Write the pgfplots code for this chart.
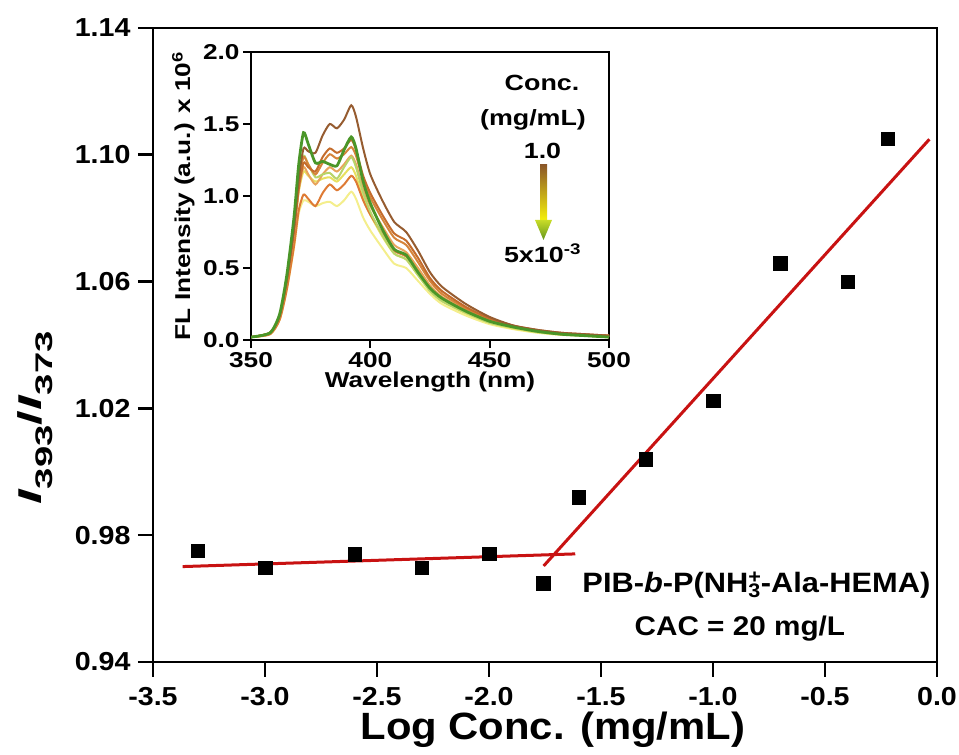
\documentclass[border=0pt]{standalone}
\usepackage{pgfplots}
\pgfplotsset{compat=1.18}
\usepackage{pgfplotstable}
\usepackage{fontspec}
\setmainfont{Liberation Sans}[FakeStretch=1.1]
\newfontfamily\insetfont{Liberation Sans}[FakeStretch=1.22]

\definecolor{fitred}{RGB}{200,18,18}
\definecolor{cBrown}{RGB}{150,92,48}
\definecolor{cOrA}{RGB}{196,108,44}
\definecolor{cOrB}{RGB}{214,132,58}
\definecolor{cOrC}{RGB}{232,164,92}
\definecolor{cOrD}{RGB}{222,122,52}
\definecolor{cYelA}{RGB}{244,238,140}
\definecolor{cYelB}{RGB}{232,224,96}
\definecolor{cLGreen}{RGB}{184,212,106}
\definecolor{cGreen}{RGB}{74,150,40}
\definecolor{barBrown}{RGB}{140,88,40}
\definecolor{barOrange}{RGB}{220,150,20}
\definecolor{barYellow}{RGB}{245,240,10}
\definecolor{headTop}{RGB}{200,220,40}
\definecolor{headBot}{RGB}{100,150,30}

% I393/I373 ratio versus log concentration
\pgfplotstableread{
x      y
-3.30  0.9751
-3.00  0.9697
-2.60  0.9740
-2.30  0.9697
-2.00  0.9741
-1.60  0.9920
-1.30  1.0040
-1.00  1.0224
-0.70  1.0658
-0.40  1.0600
-0.22  1.1050
}\ratiodata

% fluorescence spectra, one column per concentration (1.0 ... 5e-3 mg/mL)
\pgfplotstableread{
wl   B     O1    O2    O3    O4    Y1    Y2    LG    G
350  0.02  0.02  0.02  0.02  0.02  0.02  0.02  0.02  0.02
358  0.05  0.05  0.05  0.05  0.04  0.04  0.05  0.05  0.05
362  0.17  0.16  0.17  0.16  0.14  0.14  0.16  0.17  0.18
365  0.42  0.40  0.42  0.40  0.35  0.35  0.40  0.42  0.45
368  0.78  0.75  0.78  0.74  0.65  0.64  0.74  0.78  0.85
370  1.12  1.05  1.10  1.04  0.90  0.88  1.03  1.10  1.22
372  1.33  1.23  1.27  1.20  1.01  0.97  1.17  1.28  1.44
374  1.31  1.20  1.22  1.15  0.98  0.96  1.14  1.22  1.36
377  1.30  1.17  1.15  1.08  0.93  0.93  1.10  1.13  1.23
380  1.42  1.27  1.23  1.15  1.02  0.95  1.12  1.15  1.24
383  1.50  1.33  1.29  1.20  1.08  0.96  1.13  1.16  1.22
386  1.47  1.30  1.26  1.17  1.04  0.93  1.10  1.12  1.21
389  1.53  1.33  1.29  1.22  1.08  0.97  1.15  1.20  1.32
392  1.63  1.39  1.34  1.28  1.14  1.03  1.20  1.27  1.41
394  1.55  1.32  1.28  1.22  1.10  0.98  1.14  1.20  1.33
397  1.33  1.14  1.11  1.05  0.97  0.85  0.98  1.02  1.10
400  1.15  1.02  0.99  0.93  0.87  0.76  0.87  0.89  0.95
405  0.97  0.87  0.84  0.79  0.74  0.64  0.72  0.73  0.77
410  0.82  0.74  0.71  0.66  0.62  0.53  0.60  0.60  0.63
415  0.75  0.69  0.66  0.61  0.58  0.50  0.56  0.56  0.59
420  0.62  0.57  0.54  0.50  0.48  0.41  0.45  0.45  0.47
425  0.47  0.43  0.41  0.38  0.37  0.32  0.35  0.34  0.36
430  0.37  0.34  0.32  0.30  0.29  0.25  0.27  0.27  0.29
440  0.25  0.23  0.22  0.21  0.20  0.17  0.185 0.19  0.20
450  0.16  0.15  0.14  0.135 0.13  0.11  0.12  0.12  0.13
460  0.10  0.10  0.095 0.09  0.09  0.075 0.08  0.085 0.09
470  0.07  0.07  0.065 0.06  0.06  0.05  0.055 0.055 0.06
480  0.05  0.05  0.045 0.045 0.04  0.035 0.04  0.04  0.04
490  0.04  0.04  0.035 0.035 0.035 0.03  0.03  0.03  0.03
500  0.03  0.03  0.03  0.03  0.03  0.02  0.02  0.02  0.02
}\spectra

\newcommand{\sub}[1]{\raisebox{-0.32em}{\fontsize{24bp}{24bp}\selectfont #1}}

\begin{document}
\begin{tikzpicture}
\useasboundingbox (0bp,0bp) rectangle (959bp,755bp);

% ---------------- main plot ----------------
\begin{axis}[
  at={(153bp,93bp)}, anchor=south west,
  scale only axis, width=784bp, height=634bp,
  xmin=-3.5, xmax=0, ymin=0.94, ymax=1.14,
  xtick={-3.5,-3.0,-2.5,-2.0,-1.5,-1.0,-0.5,0.0},
  ytick={0.94,0.98,1.02,1.06,1.10,1.14},
  xtick pos=bottom, ytick pos=left,
  tick align=outside, major tick length=15bp,
  axis line style={line width=2.6bp},
  tick style={line width=2.6bp, black},
  /pgf/number format/assume math mode=true,
  ticklabel style={font=\fontsize{26bp}{30bp}\selectfont\bfseries},
  xticklabel style={yshift=-7bp, /pgf/number format/fixed, /pgf/number format/fixed zerofill, /pgf/number format/precision=1},
  yticklabel style={xshift=-4bp, /pgf/number format/fixed, /pgf/number format/fixed zerofill, /pgf/number format/precision=2},
  xlabel={Log Conc. (mg/mL)},
  xlabel style={font=\fontsize{38bp}{44bp}\selectfont\bfseries, at={(axis description cs:0.510,-0.123)}, anchor=base},
  ylabel={\scalebox{1.45}[1]{\textit{I}\sub{393}/\textit{I}\sub{373}}},
  ylabel style={font=\fontsize{33bp}{40bp}\selectfont\bfseries, at={(axis description cs:-0.142,0.385)}, anchor=base},
  legend style={at={(axis cs:-1.789,0.9649)}, anchor=west, draw=none, fill=none,
    font=\fontsize{28bp}{32bp}\selectfont\bfseries, inner sep=0pt},
  legend image code/.code={\path[draw=none, fill=none] (0bp,-7bp) rectangle (44bp,7bp);
    \draw[#1] plot coordinates {(6.7bp,0bp)};},
]
\addplot[only marks, mark=square*, mark size=6.7bp, black] table[x=x, y=y] {\ratiodata};
\addlegendentry{PIB-\textit{b}-P(NH\rlap{\textsuperscript{+}}\textsubscript{3}-Ala-HEMA)}
\addplot[fitred, line width=3bp, forget plot] coordinates {(-3.368,0.9701) (-1.615,0.9741)};
\addplot[fitred, line width=3bp, forget plot] coordinates {(-1.756,0.9703) (-0.034,1.1049)};
\node[anchor=base, font=\fontsize{27bp}{30bp}\selectfont\bfseries] at (axis cs:-0.880,0.9485) {CAC = 20 mg/L};
\end{axis}

% ---------------- inset: emission spectra ----------------
\begin{axis}[
  at={(251bp,415bp)}, anchor=south west,
  scale only axis, width=358bp, height=288bp,
  xmin=350, xmax=500, ymin=0, ymax=2,
  xtick={350,400,450,500}, ytick={0,0.5,1,1.5,2},
  xtick pos=bottom, ytick pos=left,
  tick align=outside, major tick length=8bp,
  axis line style={line width=1.8bp},
  tick style={line width=1.8bp, black},
  /pgf/number format/assume math mode=true,
  ticklabel style={font=\insetfont\fontsize{21.5bp}{25bp}\selectfont\bfseries},
  xticklabel style={yshift=-1bp},
  yticklabel style={/pgf/number format/fixed, /pgf/number format/fixed zerofill, /pgf/number format/precision=1},
  xlabel={Wavelength (nm)},
  xlabel style={font=\insetfont\fontsize{21.5bp}{25bp}\selectfont\bfseries, at={(axis description cs:0.5,-0.166)}, anchor=base},
  ylabel={FL Intensity (a.u.) x 10\textsuperscript{6}},
  ylabel style={font=\insetfont\fontsize{21.5bp}{25bp}\selectfont\bfseries, at={(axis description cs:-0.170,0.5)}, anchor=base},
  every axis plot/.append style={smooth, tension=0.4, line width=2bp},
]
\addplot[cYelA] table[x=wl, y=Y1] {\spectra};
\addplot[cYelB] table[x=wl, y=Y2] {\spectra};
\addplot[cOrD] table[x=wl, y=O4] {\spectra};
\addplot[cOrC] table[x=wl, y=O3] {\spectra};
\addplot[cLGreen] table[x=wl, y=LG] {\spectra};
\addplot[cOrB] table[x=wl, y=O2] {\spectra};
\addplot[cOrA] table[x=wl, y=O1] {\spectra};
\addplot[cBrown] table[x=wl, y=B] {\spectra};
\addplot[cGreen, line width=2.8bp] table[x=wl, y=G] {\spectra};
\end{axis}

% concentration key of the inset
\shade[top color=barBrown, middle color=barOrange, bottom color=barYellow] (540bp,535bp) rectangle (547bp,590bp);
\shade[top color=headTop, bottom color=headBot] (535bp,535bp) -- (552bp,535bp) -- (543.5bp,515bp) -- cycle;
\begin{scope}[every node/.style={font=\insetfont\fontsize{22bp}{26bp}\selectfont\bfseries}]
\node at (542bp,672bp) {Conc.};
\node at (533bp,635bp) {(mg/mL)};
\node at (542.5bp,604bp) {1.0};
\node at (542.5bp,502bp) {5x10\textsuperscript{-3}};
\end{scope}
\end{tikzpicture}
\end{document}
